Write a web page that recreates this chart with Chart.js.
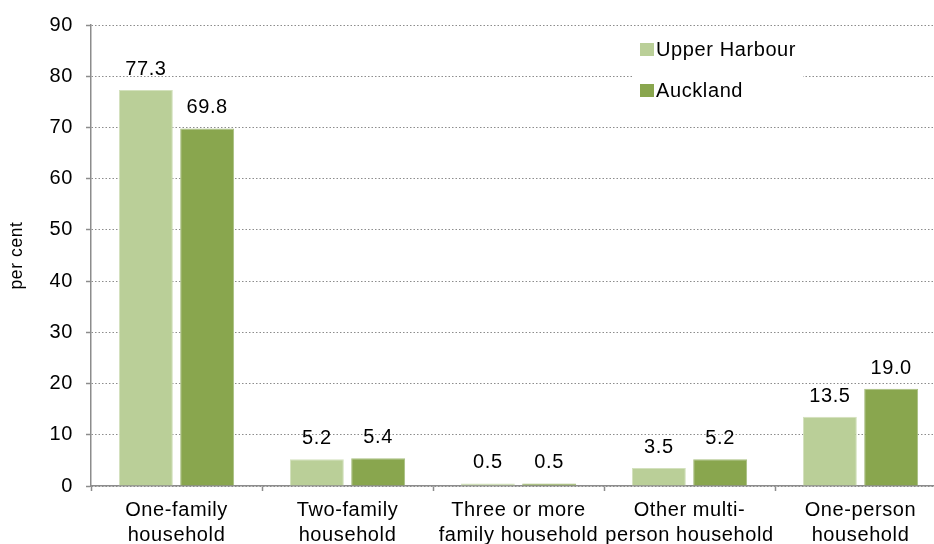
<!DOCTYPE html>
<html>
<head>
<meta charset="utf-8">
<script src="https://cdn.jsdelivr.net/npm/chart.js@4"></script>
<style>
  body { margin: 0; overflow: hidden; background: #fff; }
  #wrap { width: 950px; height: 544px; position: relative; }
</style>
</head>
<body>
<div id="wrap"><canvas id="householdChart"></canvas></div>
<script>
const categories = [
  ['One-family', 'household'],
  ['Two-family', 'household'],
  ['Three or more', 'family household'],
  ['Other multi-', 'person household'],
  ['One-person', 'household']
];
const upperHarbour = [77.3, 5.2, 0.5, 3.5, 13.5];
const auckland = [69.8, 5.4, 0.5, 5.2, 19.0];
const yTicks = [0, 10, 20, 30, 40, 50, 60, 70, 80, 90];

const FONT = "'Liberation Sans', Arial, sans-serif";

// the original text is a bit wider than Arial, so open up the letters a little
const wideText = {
  id: 'wideText',
  beforeDraw(chart) {
    chart.ctx.letterSpacing = '0.6px';
  }
};

// value labels above each bar
const barLabels = {
  id: 'barLabels',
  afterDatasetsDraw(chart) {
    const ctx = chart.ctx;
    ctx.save();
    ctx.font = '20px ' + FONT;
    ctx.fillStyle = '#000';
    ctx.textAlign = 'center';
    ctx.textBaseline = 'alphabetic';
    chart.data.datasets.forEach((ds, i) => {
      chart.getDatasetMeta(i).data.forEach((bar, j) => {
        ctx.fillText(ds.data[j].toFixed(1), bar.x, bar.y - 15);
      });
    });
    ctx.restore();
  }
};

// legend floating inside the plot
const insideLegend = {
  id: 'insideLegend',
  afterDraw(chart) {
    const ctx = chart.ctx;
    ctx.save();
    ctx.fillStyle = '#fff';
    ctx.fillRect(632, 30, 171, 80);
    ctx.font = '20px ' + FONT;
    ctx.textBaseline = 'alphabetic';
    chart.data.datasets.forEach((ds, i) => {
      const y = 43 + i * 41;
      ctx.fillStyle = ds.backgroundColor;
      ctx.fillRect(640, y, 14, 13);
      ctx.fillStyle = '#000';
      ctx.fillText(ds.label, 656, y + 13);
    });
    ctx.restore();
  }
};

new Chart(document.getElementById('householdChart'), {
  type: 'bar',
  data: {
    labels: categories,
    datasets: [
      {
        label: 'Upper Harbour',
        data: upperHarbour,
        backgroundColor: '#bacf98',
        borderColor: '#d3e1bd',
        borderWidth: 1,
        categoryPercentage: 0.717,
        barPercentage: 0.88
      },
      {
        label: 'Auckland',
        data: auckland,
        backgroundColor: '#89a64e',
        borderColor: '#a9bf80',
        borderWidth: 1,
        categoryPercentage: 0.717,
        barPercentage: 0.88
      }
    ]
  },
  options: {
    responsive: true,
    maintainAspectRatio: false,
    animation: false,
    layout: { padding: { top: 22, right: 4, bottom: 0, left: 0 } },
    plugins: {
      legend: { display: false },
      tooltip: { enabled: false }
    },
    scales: {
      x: {
        grid: {
          drawOnChartArea: false,
          drawTicks: true,
          tickLength: 5,
          tickColor: '#8c8c8c',
          tickWidth: 1.5
        },
        border: { color: '#8c8c8c', width: 1.5 },
        ticks: {
          color: '#000',
          font: { family: FONT, size: 20, lineHeight: 1.25 },
          padding: 7,
          maxRotation: 0,
          autoSkip: false
        },
        afterFit(scale) { scale.height = 58; }
      },
      y: {
        min: 0,
        max: 90,
        afterBuildTicks(scale) { scale.ticks = yTicks.map(v => ({ value: v })); },
        grid: {
          color: '#8c8c8c',
          lineWidth: 1,
          drawTicks: true,
          tickLength: 5,
          tickColor: '#8c8c8c',
          tickWidth: 1.5,
          tickBorderDash: []
        },
        border: { color: '#8c8c8c', width: 1.5, dash: [1.5, 2] },
        ticks: {
          color: '#000',
          font: { family: FONT, size: 20 },
          padding: 13
        },
        title: {
          display: true,
          text: 'per cent',
          color: '#000',
          font: { family: FONT, size: 17.5 },
          padding: { top: 7, bottom: 0 }
        },
        afterFit(scale) { scale.width = 91; }
      }
    }
  },
  plugins: [wideText, barLabels, insideLegend]
});
</script>
</body>
</html>
